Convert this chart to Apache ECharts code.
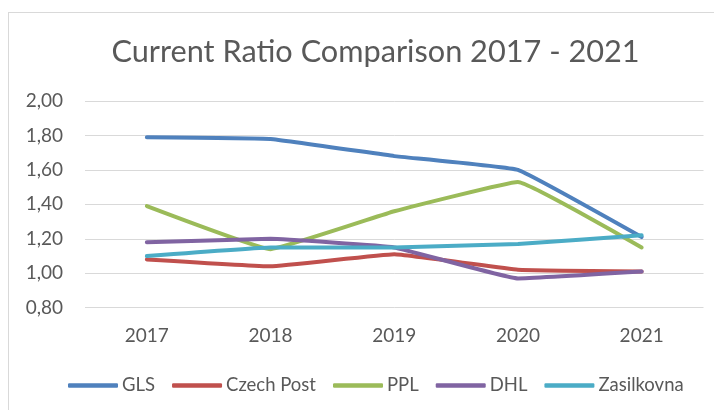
<!DOCTYPE html>
<html>
<head>
<meta charset="utf-8">
<script src="https://cdn.jsdelivr.net/npm/echarts@6/dist/echarts.min.js"></script>
<style>
  html, body { margin: 0; padding: 0; background: #fff; }
  #frame { position: absolute; left: 8px; top: 12px; width: 720px; height: 420px;
           border-left: 1px solid #d9d9d9; border-top: 1px solid #d9d9d9; }
  #chart { position: absolute; left: 0; top: 0; width: 714px; height: 410px; }
</style>
</head>
<body>
<div id="frame"></div>
<div id="chart"></div>
<script>
  // years on the x axis
  var years = ["2017", "2018", "2019", "2020", "2021"];
  // current ratio per carrier
  var gls        = [1.79, 1.78, 1.68, 1.60, 1.21];
  var czechPost  = [1.08, 1.04, 1.11, 1.02, 1.01];
  var ppl        = [1.39, 1.14, 1.36, 1.53, 1.15];
  var dhl        = [1.18, 1.20, 1.15, 0.97, 1.01];
  var zasilkovna = [1.10, 1.15, 1.15, 1.17, 1.22];

  var names  = ["GLS", "Czech Post", "PPL", "DHL", "Zasilkovna"];
  var values = [gls, czechPost, ppl, dhl, zasilkovna];
  var colors = ["#4f81bd", "#c0504d", "#9bbb59", "#8064a2", "#4bacc6"];

  var font = "Lato, 'Open Sans', sans-serif";

  var chart = echarts.init(document.getElementById("chart"));
  chart.setOption({
    animation: false,
    color: colors,
    title: {
      text: "Current Ratio Comparison 2017 - 2021",
      left: 370.5,
      textAlign: "center",
      top: 32,
      textStyle: { color: "#595959", fontFamily: font, fontSize: 30.7, fontWeight: "normal" }
    },
    legend: {
      left: 63,
      top: 371,
      itemWidth: 50,
      itemHeight: 4.5,
      itemGap: 17,
      icon: "roundRect",
      textStyle: { color: "#595959", fontFamily: font, fontSize: 18.5, padding: [0, 0, 0, -1] },
      data: names
    },
    grid: { left: 85, right: 10.5, top: 101, bottom: 102.3, containLabel: false },
    xAxis: {
      type: "category",
      data: years,
      boundaryGap: true,
      axisLine: { show: false },
      axisTick: { show: false },
      axisLabel: { color: "#595959", fontFamily: font, fontSize: 19, margin: 19 }
    },
    yAxis: {
      type: "value",
      min: 0.8,
      max: 2.0,
      interval: 0.2,
      axisLine: { show: false },
      axisTick: { show: false },
      splitLine: { lineStyle: { color: "#d9d9d9", width: 1 } },
      axisLabel: {
        color: "#595959", fontFamily: font, fontSize: 19, margin: 22,
        formatter: function (v) { return v.toFixed(2).replace(".", ","); }
      }
    },
    series: names.map(function (n, i) {
      return {
        name: n,
        type: "line",
        data: values[i],
        smooth: 0.08,
        showSymbol: false,
        symbol: "none",
        lineStyle: { width: 4, color: colors[i], cap: "round", join: "round" },
        itemStyle: { color: colors[i] }
      };
    })
  });
</script>
</body>
</html>
